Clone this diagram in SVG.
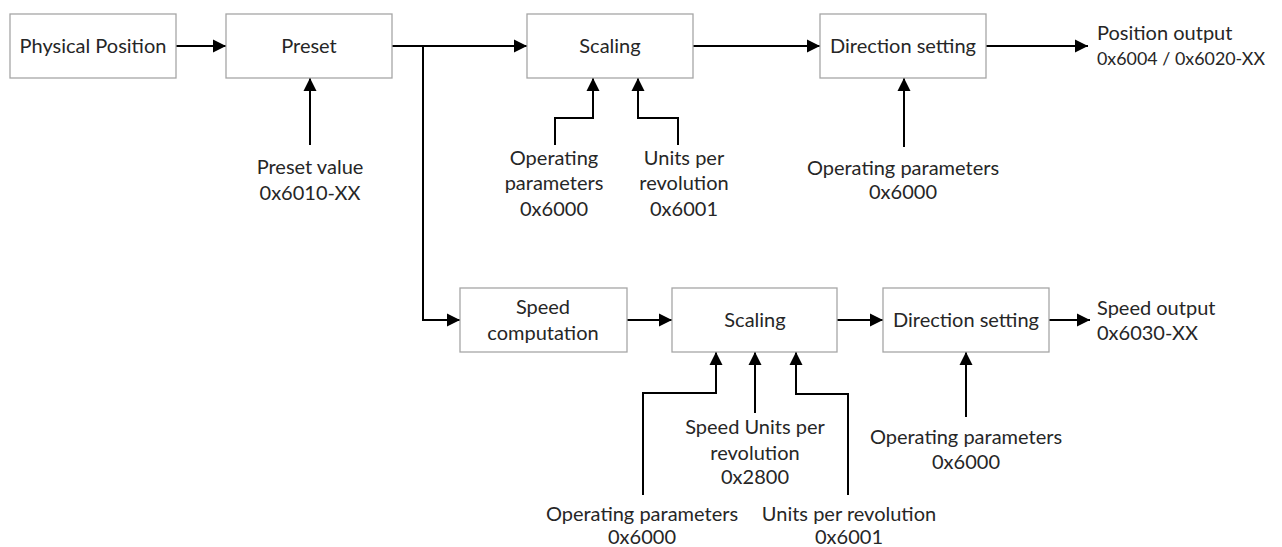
<svg xmlns="http://www.w3.org/2000/svg" width="1282" height="547" viewBox="0 0 1282 547">
<defs>
<marker id="ah" markerUnits="userSpaceOnUse" markerWidth="14" markerHeight="14" viewBox="0 0 14 14" refX="13" refY="7" orient="auto">
<path d="M0,0.5 L13,7 L0,13.5 z" fill="#000"/>
</marker>
<style>
.box{fill:#fff;stroke:#a6a6a6;stroke-width:1.3}
.t{font-family:Lato,"Open Sans",sans-serif;font-size:20px;fill:#262626;text-anchor:middle}
.tl{font-family:Lato,"Open Sans",sans-serif;font-size:20px;fill:#262626;text-anchor:start}
.c{fill:none;stroke:#000;stroke-width:2}
.a{marker-end:url(#ah)}
</style>
</defs>
<rect width="1282" height="547" fill="#fff"/>
<g id="connectors">
<path class="c a" d="M176,46 H226"/>
<path class="c a" d="M392,46 H527"/>
<path class="c a" d="M423,46 V320 H460"/>
<path class="c a" d="M693,46 H820"/>
<path class="c a" d="M986,46 H1088"/>
<path class="c a" d="M310,145 V78"/>
<path class="c a" d="M555,145 V118 H593 V78"/>
<path class="c a" d="M678,145 V118 H638 V78"/>
<path class="c a" d="M904,147 V78"/>
<path class="c a" d="M627,320 H672"/>
<path class="c a" d="M837,320 H883"/>
<path class="c a" d="M1049,320 H1090"/>
<path class="c a" d="M643,495 V393 H716 V352"/>
<path class="c a" d="M755,413 V352"/>
<path class="c a" d="M848,495 V394 H796 V352"/>
<path class="c a" d="M966,417 V352"/>
</g>
<g id="physical-position">
<rect class="box" x="10" y="14" width="166" height="64"/>
<text class="t" x="93" y="53">Physical Position</text>
</g>
<g id="preset">
<rect class="box" x="226" y="14" width="166" height="64"/>
<text class="t" x="309" y="53">Preset</text>
</g>
<g id="scaling-position">
<rect class="box" x="527" y="14" width="166" height="64"/>
<text class="t" x="610" y="53">Scaling</text>
</g>
<g id="direction-position">
<rect class="box" x="820" y="14" width="166" height="64"/>
<text class="t" x="903" y="53">Direction setting</text>
</g>
<g id="position-output">
<text class="tl" x="1097" y="40">Position output</text>
<text class="tl" x="1097" y="65" style="font-size:18px" textLength="168" lengthAdjust="spacingAndGlyphs">0x6004 / 0x6020-XX</text>
</g>
<g id="preset-value">
<text class="t" x="310" y="174">Preset value</text>
<text class="t" x="310" y="200">0x6010-XX</text>
</g>
<g id="op-params-1">
<text class="t" x="554" y="165">Operating</text>
<text class="t" x="554" y="190">parameters</text>
<text class="t" x="554" y="216">0x6000</text>
</g>
<g id="units-rev-1">
<text class="t" x="684" y="165">Units per</text>
<text class="t" x="684" y="190">revolution</text>
<text class="t" x="684" y="216">0x6001</text>
</g>
<g id="op-params-2">
<text class="t" x="903" y="175">Operating parameters</text>
<text class="t" x="903" y="199">0x6000</text>
</g>
<g id="speed-computation">
<rect class="box" x="460" y="288" width="167" height="64"/>
<text class="t" x="543" y="314">Speed</text>
<text class="t" x="543" y="340">computation</text>
</g>
<g id="scaling-speed">
<rect class="box" x="672" y="288" width="165" height="64"/>
<text class="t" x="755" y="327">Scaling</text>
</g>
<g id="direction-speed">
<rect class="box" x="883" y="288" width="166" height="64"/>
<text class="t" x="966" y="327">Direction setting</text>
</g>
<g id="speed-output">
<text class="tl" x="1097" y="315">Speed output</text>
<text class="tl" x="1097" y="340">0x6030-XX</text>
</g>
<g id="speed-units-rev">
<text class="t" x="755" y="434">Speed Units per</text>
<text class="t" x="755" y="460">revolution</text>
<text class="t" x="755" y="484">0x2800</text>
</g>
<g id="op-params-3">
<text class="t" x="642" y="521">Operating parameters</text>
<text class="t" x="642" y="544">0x6000</text>
</g>
<g id="units-rev-2">
<text class="t" x="849" y="521">Units per revolution</text>
<text class="t" x="849" y="544">0x6001</text>
</g>
<g id="op-params-4">
<text class="t" x="966" y="444">Operating parameters</text>
<text class="t" x="966" y="469">0x6000</text>
</g>
</svg>
